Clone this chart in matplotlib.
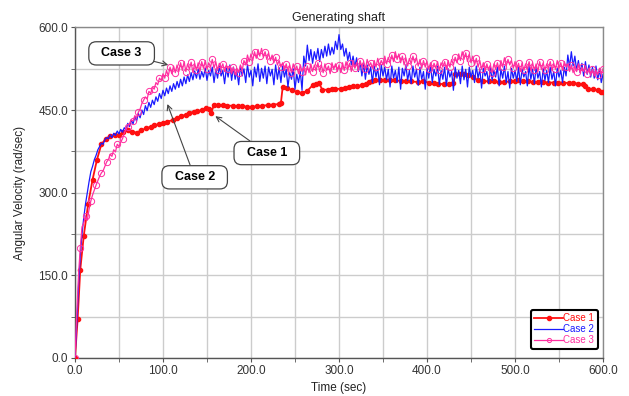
import matplotlib
matplotlib.use("Agg")
import matplotlib.pyplot as plt
from matplotlib.legend_handler import HandlerLine2D
from matplotlib.ticker import MultipleLocator, FormatStrFormatter

plt.rcParams['font.family'] = ['Liberation Sans', 'DejaVu Sans']

# ---------------- data ----------------
case1_t = [0, 3, 6, 10, 15, 20, 25, 30, 35, 40, 45, 50, 55, 60, 65, 70, 75, 81, 86, 90,
           95, 100, 105, 111, 116, 121, 126, 130, 135, 139, 144, 149, 152, 154.6, 158, 163, 168, 173, 179, 185,
           190, 196, 201, 207, 213, 219, 225, 232, 234, 236, 241, 247, 252, 258, 264, 270, 274, 277, 281, 287,
           292, 296, 302, 307, 311, 316, 321, 326, 331, 334, 338, 341, 347, 352, 358, 364, 370, 376, 382, 390,
           396, 402, 408, 413, 419, 425, 430, 432, 437, 442, 447, 452, 458, 464, 470, 476, 482, 488, 494, 500,
           503, 509, 515, 521, 526, 532, 538, 544, 549, 555, 561, 566, 572, 577, 580, 583, 589, 594, 598, 600]
case1_v = [0, 70, 160, 222, 280, 324, 360, 388, 398, 403, 404, 404, 410, 414, 411, 409, 413, 417, 420, 423,
           424, 426, 429, 432, 436, 439, 442, 445, 447, 448, 450, 453, 452, 445, 459, 459, 459, 458, 458, 457,
           457, 456, 456, 457, 458, 459, 460, 461, 463, 492, 490, 486, 483, 481, 485, 495, 498, 500, 487, 487,
           488, 488, 489, 491, 492, 493, 494, 495, 497, 501, 503, 505, 505, 504, 504, 504, 503, 503, 502, 501,
           502, 500, 499, 498, 497, 497, 499, 515, 516, 515, 514, 510, 504, 503, 502, 502, 501, 501, 502, 503,
           505, 503, 502, 501, 501, 501, 500, 500, 500, 500, 499, 499, 498, 497, 494, 489, 488, 486, 483, 483]

# Case 2 / Case 3 sampled every 2 s from 0 to 600 s
time_s = [2 * i for i in range(301)]
case2_v = [
    0, 60, 130, 185, 225, 255, 280, 300, 320, 338,
    348, 360, 368, 378, 384, 390, 388, 396, 400, 398,
    405, 400, 408, 404, 412, 407, 415, 410, 418, 414,
    426, 420, 432, 425, 438, 430, 444, 436, 450, 442,
    458, 449, 464, 455, 468, 460, 474, 466, 480, 471,
    486, 476, 490, 480, 494, 484, 498, 488, 502, 491,
    506, 494, 510, 498, 514, 502, 518, 505, 521, 508,
    524, 506, 520, 510, 526, 504, 522, 512, 528, 500,
    524, 508, 530, 512, 522, 498, 526, 510, 532, 504,
    528, 506, 520, 496, 530, 512, 525, 500, 533, 510,
    522, 494, 528, 510, 534, 502, 526, 508, 530, 498,
    528, 512, 524, 496, 532, 506, 527, 500, 530, 510,
    524, 492, 518, 506, 525, 488, 515, 500, 520, 486,
    548, 530, 568, 540, 560, 535, 556, 542, 562, 538,
    560, 545, 566, 548, 570, 550, 564, 552, 575, 560,
    587, 560, 570, 548, 562, 540, 555, 532, 548, 528,
    545, 520, 538, 512, 535, 506, 532, 515, 528, 500,
    530, 510, 526, 496, 532, 512, 528, 505, 524, 492,
    530, 508, 522, 500, 528, 488, 526, 512, 532, 504,
    522, 498, 530, 510, 524, 495, 528, 506, 520, 488,
    526, 508, 532, 500, 524, 512, 530, 496, 522, 506,
    528, 494, 525, 510, 520, 486, 528, 508, 522, 498,
    530, 505, 524, 492, 528, 510, 522, 500, 530, 508,
    524, 490, 526, 512, 520, 498, 528, 504, 522, 510,
    528, 494, 524, 508, 530, 500, 520, 490, 526, 508,
    522, 502, 528, 496, 524, 510, 520, 494, 530, 506,
    524, 498, 528, 508, 520, 492, 526, 504, 522, 500,
    528, 506, 520, 494, 526, 510, 522, 500, 528, 512,
    550, 528, 556, 530, 548, 522, 540, 518, 535, 512,
    538, 515, 532, 510, 528, 508, 530, 505, 524, 500,
    515]
case3_v = [
    0, 80, 150, 200, 238, 245, 258, 250, 270, 285,
    296, 305, 314, 322, 330, 336, 340, 348, 356, 360,
    370, 366, 378, 374, 388, 384, 392, 398, 408, 416,
    420, 426, 432, 430, 440, 436, 446, 452, 462, 468,
    474, 470, 484, 480, 492, 488, 500, 496, 508, 504,
    516, 508, 522, 512, 528, 516, 530, 518, 532, 520,
    536, 522, 538, 520, 534, 524, 537, 518, 535, 522,
    536, 520, 538, 526, 540, 524, 536, 528, 542, 526,
    538, 522, 535, 526, 534, 520, 532, 524, 530, 516,
    528, 514, 526, 518, 532, 522, 540, 532, 550, 538,
    552, 540, 556, 544, 560, 548, 562, 546, 556, 542,
    554, 540, 550, 536, 546, 532, 540, 528, 536, 522,
    534, 520, 532, 518, 534, 522, 530, 516, 532, 520,
    528, 514, 530, 518, 534, 520, 532, 522, 536, 520,
    532, 518, 534, 522, 530, 516, 536, 524, 534, 520,
    532, 518, 536, 522, 538, 524, 535, 520, 540, 526,
    536, 522, 540, 528, 538, 524, 542, 530, 536, 526,
    540, 528, 544, 530, 540, 532, 548, 534, 546, 536,
    550, 538, 556, 542, 552, 536, 548, 532, 545, 530,
    544, 534, 548, 536, 545, 530, 542, 526, 540, 528,
    538, 524, 536, 522, 535, 526, 538, 522, 536, 528,
    538, 524, 540, 528, 542, 532, 546, 536, 552, 540,
    556, 542, 554, 538, 552, 536, 548, 532, 544, 528,
    540, 524, 536, 520, 534, 522, 532, 518, 534, 524,
    536, 522, 540, 528, 545, 530, 542, 532, 540, 526,
    538, 524, 535, 520, 536, 522, 534, 524, 538, 522,
    536, 522, 534, 520, 538, 524, 536, 522, 534, 526,
    538, 522, 535, 524, 540, 526, 536, 522, 538, 528,
    534, 520, 532, 518, 530, 520, 534, 518, 528, 520,
    530, 516, 526, 514, 524, 512, 522, 514, 526, 516,
    525]

series_labels = ["Case 1", "Case 2", "Case 3"]
x_ticks = [0, 100, 200, 300, 400, 500, 600]
y_ticks = [0, 150, 300, 450, 600]

# ---------------- figure ----------------
RED = '#ff1010'
BLUE = '#1a1aff'
PINK = '#ff2ea0'

fig = plt.figure(figsize=(6.29, 3.96), dpi=100)
ax = fig.add_axes([0.1192, 0.0960, 0.8395, 0.8346])

l1, = ax.plot(case1_t, case1_v, color=RED, lw=1.3, marker='o', ms=3.0,
              mfc=RED, mec=RED, label=series_labels[0], zorder=3)
l2, = ax.plot(time_s, case2_v, color=BLUE, lw=0.9, label=series_labels[1], zorder=4)
l3, = ax.plot(time_s, case3_v, color=PINK, lw=0.9, marker='o', ms=4.5, mfc='none',
              mec=PINK, mew=0.7, markevery=3, label=series_labels[2], zorder=5)

ax.set_xlim(0, 600)
ax.set_ylim(0, 600)
ax.set_xticks(x_ticks)
ax.set_yticks(y_ticks)
ax.xaxis.set_minor_locator(MultipleLocator(50))
ax.yaxis.set_minor_locator(MultipleLocator(75))
ax.xaxis.set_major_formatter(FormatStrFormatter('%.1f'))
ax.yaxis.set_major_formatter(FormatStrFormatter('%.1f'))
ax.grid(True, which='both', color='#cccccc', lw=1.0, zorder=0)
ax.set_axisbelow(True)
ax.tick_params(which='both', direction='out', length=3, color='#555555',
               labelsize=8.5, labelcolor='#333333', pad=2)
for s in ax.spines.values():
    s.set_color('#8a8a8a')
    s.set_linewidth(1.0)
ax.spines['left'].set_color('#555555')
ax.spines['bottom'].set_color('#555555')

ax.set_title("Generating shaft", fontsize=9, color='#222222', pad=5)
ax.set_xlabel("Time (sec)", fontsize=8.5, color='#222222', labelpad=4)
ax.set_ylabel("Angular Velocity (rad/sec)", fontsize=8.5, color='#222222', labelpad=9)

# annotations
box = dict(boxstyle='round,pad=0.45,rounding_size=0.6', fc='white', ec='#444444', lw=0.9)
arrow = dict(arrowstyle='->', color='#444444', lw=0.8, shrinkA=0, shrinkB=0)
ax.annotate("  Case 3  ", xy=(106, 532), xytext=(53, 553), fontsize=9, fontweight='bold',
            ha='center', va='center', bbox=box, arrowprops=arrow, zorder=10)
ax.annotate("  Case 1  ", xy=(159.5, 439), xytext=(218, 372), fontsize=9, fontweight='bold',
            ha='center', va='center', bbox=box, arrowprops=arrow, zorder=10)
ax.annotate("  Case 2  ", xy=(105, 461), xytext=(136, 328), fontsize=9, fontweight='bold',
            ha='center', va='center', bbox=box, arrowprops=arrow, zorder=10)


class LeftMarker(HandlerLine2D):
    def get_xdata(self, legend, xdescent, ydescent, width, height, fontsize):
        xdata, _ = super().get_xdata(legend, xdescent, ydescent, width, height, fontsize)
        return xdata, [xdata[0]]


leg = ax.legend(handles=[l1, l2, l3], loc='lower right', bbox_to_anchor=(0.99, 0.028),
                borderaxespad=0, fontsize=7, handlelength=3.0, handletextpad=0.0,
                labelspacing=0.1, borderpad=0.35, numpoints=1, fancybox=True,
                framealpha=1, edgecolor='black',
                handler_map={l1: LeftMarker(), l2: LeftMarker(), l3: LeftMarker()})
leg.get_frame().set_linewidth(1.5)
for h in leg.legend_handles:
    h.set_markersize(3)
for txt, c in zip(leg.get_texts(), [RED, BLUE, PINK]):
    txt.set_color(c)
leg.set_zorder(20)

fig.savefig("out.png", dpi=100)
